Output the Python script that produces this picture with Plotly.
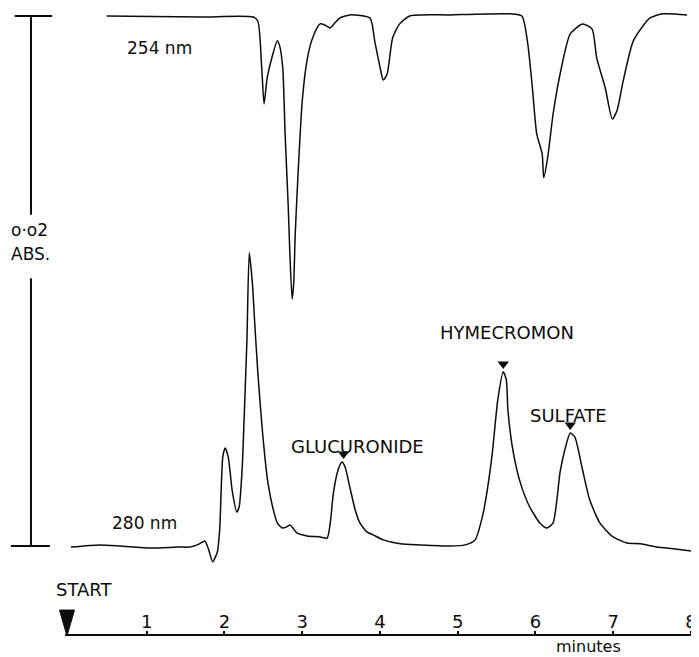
import plotly.graph_objects as go

# ---------------- data (time in minutes, signal in mAU relative to each baseline) ----------------
t_280 = [0.05, 0.42, 0.68, 1.07, 1.44, 1.58, 1.70, 1.77, 1.82, 1.87, 1.93, 1.96, 2.00, 2.03,
         2.07, 2.12, 2.18, 2.21, 2.25, 2.27, 2.31, 2.34, 2.38, 2.41, 2.45, 2.50, 2.54, 2.58,
         2.64, 2.70, 2.76, 2.82, 2.86, 2.90, 2.95, 3.08, 3.25, 3.34, 3.38, 3.42, 3.48, 3.53,
         3.57, 3.63, 3.70, 3.76, 3.85, 3.93, 4.06, 4.28, 4.53, 4.92, 5.11, 5.24, 5.34, 5.40,
         5.46, 5.53, 5.60, 5.64, 5.66, 5.73, 5.82, 5.94, 6.07, 6.16, 6.24, 6.33, 6.39, 6.46,
         6.52, 6.61, 6.71, 6.84, 7.01, 7.19, 7.36, 7.57, 7.81, 8.02]
v_280 = [-0.04, 0.04, 0.00, -0.08, -0.04, -0.04, 0.08, 0.19, -0.15, -0.60, -0.23, 0.60, 3.36, 3.70,
         3.36, 2.11, 1.28, 1.47, 2.98, 4.49, 7.77, 11.06, 9.92, 8.42, 6.53, 4.64, 3.36, 2.38,
         1.47, 0.87, 0.68, 0.72, 0.79, 0.68, 0.49, 0.38, 0.34, 0.30, 0.87, 2.00, 2.87, 3.17,
         2.98, 2.23, 1.36, 0.87, 0.53, 0.42, 0.23, 0.08, 0.04, 0.00, 0.04, 0.23, 1.20, 2.20,
         3.51, 5.51, 6.57, 6.26, 5.13, 3.51, 2.38, 1.47, 0.87, 0.68, 0.87, 2.80, 3.62, 4.26,
         4.11, 2.98, 1.74, 0.87, 0.34, 0.11, 0.08, -0.04, -0.11, -0.19]

t_254 = [0.51, 1.71, 2.39, 2.45, 2.50, 2.53, 2.57, 2.63, 2.70, 2.73, 2.77, 2.80, 2.84, 2.86,
         2.89, 2.91, 2.93, 2.97, 3.02, 3.08, 3.14, 3.21, 3.25, 3.31, 3.38, 3.44, 3.50, 3.63,
         3.89, 3.95, 4.02, 4.06, 4.11, 4.18, 4.27, 4.40, 4.92, 5.69, 5.84, 5.91, 5.97, 6.03,
         6.10, 6.12, 6.17, 6.24, 6.33, 6.46, 6.62, 6.74, 6.80, 6.91, 7.00, 7.06, 7.14, 7.27,
         7.48, 7.65, 7.96]
v_254 = [0.00, -0.04, -0.04, -0.19, -1.96, -3.32, -2.34, -1.58, -0.94, -1.13, -1.96, -4.45, -7.17, -8.87,
         -10.68, -10.11, -8.23, -5.74, -3.21, -1.70, -0.94, -0.45, -0.30, -0.34, -0.45, -0.26, -0.08, 0.04,
         -0.08, -0.94, -1.96, -2.42, -2.19, -0.83, -0.30, 0.00, 0.04, 0.08, 0.00, -0.94, -2.57, -4.45,
         -5.21, -6.11, -5.36, -3.70, -2.19, -0.68, -0.30, -0.49, -1.58, -2.72, -3.89, -3.58, -2.45, -0.94,
         -0.08, 0.08, 0.04]

TOP_OFFSET = 20.0          # 0.02 ABS = 20 mAU; the 254 nm trace sits one scale-bar above
SCALE_BAR = 20.0

time_ticks = [1, 2, 3, 4, 5, 6, 7, 8]
time_tick_labels = ["1", "2", "3", "4", "5", "6", "7", "8"]

peak_names = ["GLUCURONIDE", "HYMECROMON", "SULFATE"]
peak_times = [3.55, 5.60, 6.46]
peak_heights = [3.17, 6.57, 4.26]

INK = "#0c0c0c"
FONT = "DejaVu Sans"

# the page body keeps its default 8px margin, so the figure is 8px smaller each way
W, H = 691, 649
AXIS_LINE_FROM_BOTTOM = 21      # pixels from figure bottom to the time-axis line

fig = go.Figure()

fig.add_trace(go.Scatter(x=t_280, y=v_280, mode="lines",
                         line=dict(color=INK, width=1.5, shape="spline", smoothing=0.6),
                         hoverinfo="skip"))
fig.add_trace(go.Scatter(x=t_254, y=[v + TOP_OFFSET for v in v_254], mode="lines",
                         line=dict(color=INK, width=1.5, shape="spline", smoothing=0.6),
                         hoverinfo="skip"))

# peak markers (small downward triangles above each named peak)
fig.add_trace(go.Scatter(x=peak_times, y=[h + 0.3 for h in peak_heights], mode="markers",
                         marker=dict(symbol="triangle-down", size=10, color=INK),
                         hoverinfo="skip"))

# invisible helper so that the time-axis subplot (x2/y2) gets drawn
fig.add_trace(go.Scatter(x=time_ticks, y=[0.5] * len(time_ticks), xaxis="x2", yaxis="y2",
                         mode="markers", marker=dict(opacity=0), hoverinfo="skip"))

# scale bar (0.02 ABS)
bar_t = -0.462
gap_lo, gap_hi = 10.1, 12.5
shp = dict(type="line", xref="x", yref="y", line=dict(color=INK, width=2))
fig.add_shape(**shp, x0=bar_t, x1=bar_t, y0=0, y1=gap_lo)
fig.add_shape(**shp, x0=bar_t, x1=bar_t, y0=gap_hi, y1=SCALE_BAR)
fig.add_shape(**shp, x0=-0.67, x1=-0.19, y0=SCALE_BAR, y1=SCALE_BAR)
fig.add_shape(**shp, x0=-0.72, x1=-0.22, y0=0, y1=0)

# START triangle sitting on the time axis
fig.add_shape(type="path", xref="x", yref="y", xsizemode="pixel", ysizemode="pixel",
              xanchor=0, yanchor=-3.40, path="M-7.5,26 L7.5,26 L0,0 Z",
              fillcolor=INK, line=dict(color=INK, width=1))

def ann(text, x, y, size=18, xanchor="center"):
    fig.add_annotation(text=text, x=x, y=y, xref="x", yref="y", showarrow=False,
                       xanchor=xanchor, yanchor="middle",
                       font=dict(family=FONT, size=size, color=INK))

ann("254 nm", 1.19, 18.79, size=17)
ann("280 nm", 1.00, 0.87, size=17)
ann(peak_names[0], 3.73, 3.77)
ann(peak_names[1], 5.65, 8.04)
ann(peak_names[2], 6.44, 4.91)
ann("START", 0.23, -1.66)
ann("minutes", 6.70, -3.80, size=16)
ann("o·o2", -0.74, 11.92, size=17, xanchor="left")
ann("ABS.", -0.74, 11.0, size=17, xanchor="left")

fig.update_layout(
    width=W, height=H,
    margin=dict(l=0, r=0, t=0, b=0, autoexpand=False),
    paper_bgcolor="white", plot_bgcolor="rgba(0,0,0,0)",
    showlegend=False,
    xaxis=dict(domain=[0, 1], range=[-0.757, 8.113], visible=False),
    yaxis=dict(domain=[0, 1], range=[-4.19, 20.30], visible=False),
    xaxis2=dict(domain=[57 / W, 683 / W], range=[-0.05, 8], anchor="y2", side="top",
                showline=True, linecolor=INK, linewidth=2,
                ticks="outside", ticklen=3, tickwidth=1.5, tickcolor=INK,
                tickvals=time_ticks, ticktext=time_tick_labels, ticklabelstandoff=-4,
                ticklabeloverflow="allow",
                tickfont=dict(family=FONT, size=18, color=INK),
                showgrid=False, zeroline=False),
    yaxis2=dict(domain=[0, AXIS_LINE_FROM_BOTTOM / H], range=[0, 1], anchor="x2",
                showline=False, showgrid=False, zeroline=False, showticklabels=False, ticks=""),
)

fig.write_html("out.html")
